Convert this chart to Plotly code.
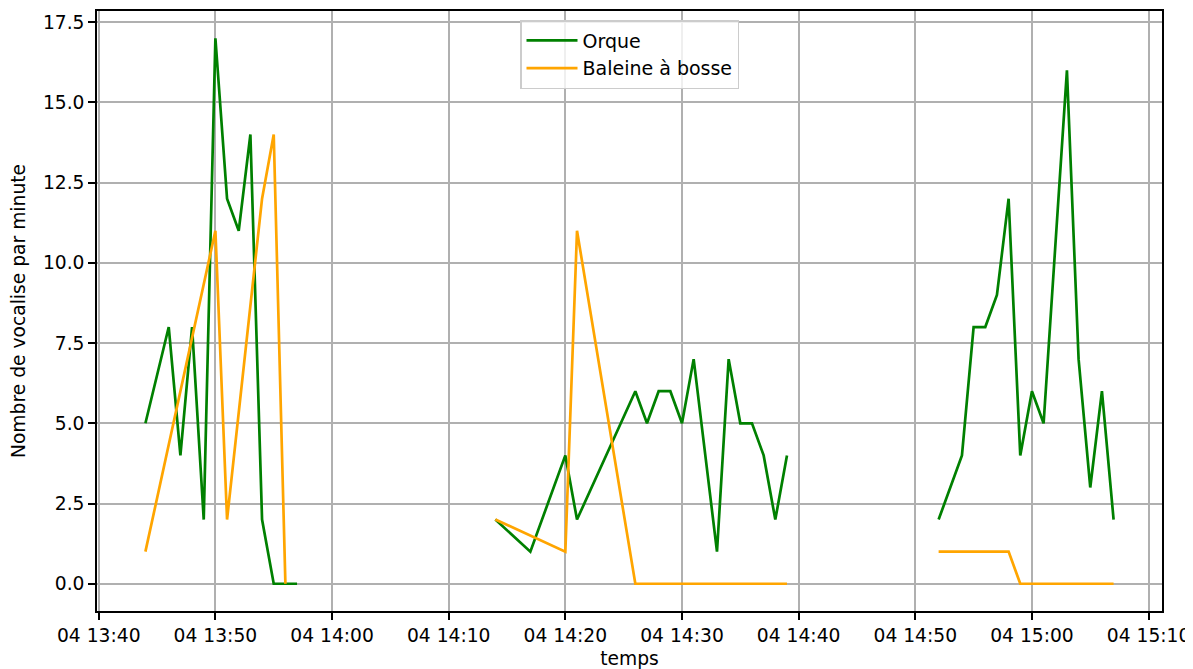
import plotly.graph_objects as go

# vocalisations par minute, None = pas d'enregistrement (coupure de la courbe)
orque_temps = [
    "2023-01-04 13:44", "2023-01-04 13:46", "2023-01-04 13:47", "2023-01-04 13:48",
    "2023-01-04 13:49", "2023-01-04 13:50", "2023-01-04 13:51", "2023-01-04 13:52",
    "2023-01-04 13:53", "2023-01-04 13:54", "2023-01-04 13:55", "2023-01-04 13:56",
    "2023-01-04 13:57", "2023-01-04 14:05",
    "2023-01-04 14:14", "2023-01-04 14:17", "2023-01-04 14:20", "2023-01-04 14:21",
    "2023-01-04 14:26", "2023-01-04 14:27", "2023-01-04 14:28", "2023-01-04 14:29",
    "2023-01-04 14:30", "2023-01-04 14:31", "2023-01-04 14:33", "2023-01-04 14:34",
    "2023-01-04 14:35", "2023-01-04 14:36", "2023-01-04 14:37", "2023-01-04 14:38",
    "2023-01-04 14:39", "2023-01-04 14:45",
    "2023-01-04 14:52", "2023-01-04 14:54", "2023-01-04 14:55", "2023-01-04 14:56",
    "2023-01-04 14:57", "2023-01-04 14:58", "2023-01-04 14:59", "2023-01-04 15:00",
    "2023-01-04 15:01", "2023-01-04 15:03", "2023-01-04 15:04", "2023-01-04 15:05",
    "2023-01-04 15:06", "2023-01-04 15:07",
]
orque_vals = [
    5, 8, 4, 8, 2, 17, 12, 11, 14, 2, 0, 0, 0, None,
    2, 1, 4, 2, 6, 5, 6, 6, 5, 7, 1, 7, 5, 5, 4, 2, 4, None,
    2, 4, 8, 8, 9, 12, 4, 6, 5, 16, 7, 3, 6, 2,
]

baleine_temps = [
    "2023-01-04 13:44", "2023-01-04 13:50", "2023-01-04 13:51", "2023-01-04 13:54",
    "2023-01-04 13:55", "2023-01-04 13:56", "2023-01-04 14:05",
    "2023-01-04 14:14", "2023-01-04 14:20", "2023-01-04 14:21", "2023-01-04 14:26",
    "2023-01-04 14:39", "2023-01-04 14:45",
    "2023-01-04 14:52", "2023-01-04 14:58", "2023-01-04 14:59", "2023-01-04 15:07",
]
baleine_vals = [
    1, 11, 2, 12, 14, 0, None,
    2, 1, 11, 0, 0, None,
    1, 1, 0, 0,
]

yticks = [0, 2.5, 5, 7.5, 10, 12.5, 15, 17.5]

font = "DejaVu Sans, Liberation Sans, sans-serif"

fig = go.Figure()
fig.add_trace(go.Scatter(x=orque_temps, y=orque_vals, mode="lines", name="Orque",
                         line=dict(color="#008000", width=2.7), connectgaps=False))
fig.add_trace(go.Scatter(x=baleine_temps, y=baleine_vals, mode="lines", name="Baleine à bosse",
                         line=dict(color="#FFA500", width=2.7), connectgaps=False))

# la page a une marge de 8 px : figure réduite d'autant
fig.update_layout(
    width=1185, height=661,
    margin=dict(l=89, r=31, t=3, b=58),
    paper_bgcolor="white", plot_bgcolor="white",
    font=dict(family=font, size=18.7, color="black"),
    showlegend=True,
    legend=dict(x=0.5, xanchor="center", y=0.985, yanchor="top",
                bgcolor="rgba(255,255,255,0.8)", bordercolor="#cccccc", borderwidth=1.5,
                font=dict(size=19), tracegroupgap=0, itemwidth=51),
)
fig.update_xaxes(
    type="date", automargin=False,
    range=["2023-01-04 13:39:51", "2023-01-04 15:11:09"],
    dtick=600000, tick0="2023-01-04 13:40", tickformat="%d %H:%M",
    showgrid=True, gridcolor="#b0b0b0", gridwidth=1.5,
    showline=True, linecolor="black", linewidth=1.5, mirror=True,
    ticks="outside", ticklen=7, tickwidth=1.5, tickcolor="black",
    title=dict(text="temps", standoff=9, font=dict(size=18.7)),
    zeroline=False,
)
fig.update_yaxes(
    automargin=False,
    range=[-0.85, 17.85], tickvals=yticks, tickformat=".1f",
    showgrid=True, gridcolor="#b0b0b0", gridwidth=1.5,
    showline=True, linecolor="black", linewidth=1.5, mirror=True,
    ticks="outside", ticklen=7, tickwidth=1.5, tickcolor="black",
    title=dict(text="Nombre de vocalise par minute", standoff=13, font=dict(size=18.7)),
    zeroline=False,
)

fig.write_html("out.html")
